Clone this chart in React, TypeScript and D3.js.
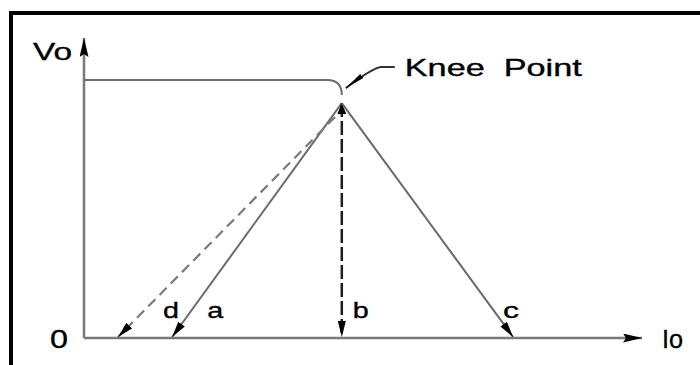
import React from "react";
import * as d3 from "d3";

// values in percent of axis span
const ratedVo = 86; // flat part of the curve
const cornerIo = 43.6; // where the rounding starts
const kneeIo = 46.2;
const kneeVo = 78.3;
const lineNames = ["a", "b", "c", "d"];
const lineStartIo = [46.2, 46.2, 46.2, 45.0];
const lineStartVo = [78.3, 78.3, 78.3, 73.7];
const lineEndIo = [15.8, 46.2, 76.9, 6.1];
const axisLabels = ["Vo", "Io", "0"];
const kneeLabel = "Knee  Point";

const W = 700;
const H = 365;

const App = () => {
  const x = d3.scaleLinear().domain([0, 100]).range([84, 642]);
  const y = d3.scaleLinear().domain([0, 100]).range([338, 38]);

  const font = "'Liberation Sans', Arial, Helvetica, sans-serif";
  const txt = { fontFamily: font, fill: "#000", stroke: "#000", strokeWidth: 0.35 };

  // flat part + rounded knee
  const curve =
    `M${x(0)},${y(ratedVo)} H${x(cornerIo)} ` +
    `Q${x(kneeIo)},${y(ratedVo)} ${x(kneeIo)},${y(ratedVo - 5)}`;

  const styles = [
    { stroke: "#6a6a6a", width: 2, dash: null },
    { stroke: "#1e1e1e", width: 2.5, dash: "14 4" },
    { stroke: "#6a6a6a", width: 2, dash: null },
    { stroke: "#7a7a7a", width: 2.2, dash: "10 6" },
  ];

  // label offsets from the bottom end of each line
  const labelDx = [35, 11, -10, 45];

  const kx = x(kneeIo);
  const ky = y(kneeVo);
  const leader = `M${kx + 53},${ky - 36} H${kx + 40} Q${kx + 32},${ky - 36} ${kx + 4},${ky - 15}`;

  return (
    <svg
      width={W}
      height={H}
      style={{ position: "absolute", left: 0, top: 0, background: "#fff" }}
    >
      <defs>
        <marker
          id="arr"
          viewBox="0 0 16 8"
          refX="16"
          refY="4"
          markerWidth="16"
          markerHeight="8"
          markerUnits="userSpaceOnUse"
          orient="auto"
        >
          <path d="M0,0 L16,4 L0,8 Z" fill="#000" />
        </marker>
        <marker
          id="knee"
          viewBox="0 0 11 9"
          refX="11"
          refY="4.5"
          markerWidth="11"
          markerHeight="9"
          markerUnits="userSpaceOnUse"
          orient="auto-start-reverse"
        >
          <path d="M0,0 L11,4.5 L0,9 Z" fill="#000" />
        </marker>
        <marker
          id="axarr"
          viewBox="0 0 19 9"
          refX="19"
          refY="4.5"
          markerWidth="19"
          markerHeight="9"
          markerUnits="userSpaceOnUse"
          orient="auto"
        >
          <path d="M0,0 L19,4.5 L0,9 L3,4.5 Z" fill="#000" />
        </marker>
        <marker
          id="lead"
          viewBox="0 0 20 7"
          refX="20"
          refY="3.5"
          markerWidth="20"
          markerHeight="7"
          markerUnits="userSpaceOnUse"
          orient="auto"
        >
          <path d="M0,1 L20,3.5 L0,6 Z" fill="#000" />
        </marker>
      </defs>

      {/* frame (top and left only) */}
      <line x1={9} y1={13} x2={W} y2={13} stroke="#000" strokeWidth={4} />
      <line x1={11} y1={11} x2={11} y2={H} stroke="#000" strokeWidth={4} />

      {/* axes */}
      <line
        x1={x(0)}
        y1={y(0)}
        x2={x(0)}
        y2={y(100)}
        stroke="#7a7a7a"
        strokeWidth={2.5}
        markerEnd="url(#axarr)"
      />
      <line
        x1={x(0)}
        y1={y(0)}
        x2={x(100)}
        y2={y(0)}
        stroke="#7a7a7a"
        strokeWidth={2.5}
        markerEnd="url(#axarr)"
      />

      {/* regulation curve */}
      <path d={curve} fill="none" stroke="#6e6e6e" strokeWidth={2} />

      {/* load lines */}
      {lineNames.map((n, i) => (
        <g key={n}>
          <line
            x1={x(lineStartIo[i])}
            y1={y(lineStartVo[i])}
            x2={x(lineEndIo[i])}
            y2={y(0) - 1}
            stroke={styles[i].stroke}
            strokeWidth={styles[i].width}
            strokeDasharray={styles[i].dash ?? undefined}
            markerEnd="url(#arr)"
            markerStart={n === "b" ? "url(#knee)" : undefined}
          />
          <text
            x={x(lineEndIo[i]) + labelDx[i]}
            y={y(0) - 20}
            {...txt}
            fontSize={22}
            textLength={16}
            lengthAdjust="spacingAndGlyphs"
          >
            {n}
          </text>
        </g>
      ))}

      {/* knee pointer */}
      <path d={leader} fill="none" stroke="#333" strokeWidth={2} markerEnd="url(#lead)" />
      <text
        x={kx + 63}
        y={ky - 27}
        {...txt}
        fontSize={24}
        textLength={177}
        lengthAdjust="spacingAndGlyphs"
        style={{ whiteSpace: "pre" }}
      >
        {kneeLabel}
      </text>

      {/* axis labels */}
      <text
        x={x(0) - 51}
        y={y(100) + 21.5}
        {...txt}
        fontSize={24}
        textLength={39}
        lengthAdjust="spacingAndGlyphs"
      >
        {axisLabels[0]}
      </text>
      <text
        x={x(100) + 20}
        y={y(0) + 10}
        {...txt}
        fontSize={26}
        textLength={21}
        lengthAdjust="spacingAndGlyphs"
      >
        {axisLabels[1]}
      </text>
      <text
        x={x(0) - 34}
        y={y(0) + 10}
        {...txt}
        fontSize={26}
        textLength={18}
        lengthAdjust="spacingAndGlyphs"
      >
        {axisLabels[2]}
      </text>
    </svg>
  );
};

export default App;
